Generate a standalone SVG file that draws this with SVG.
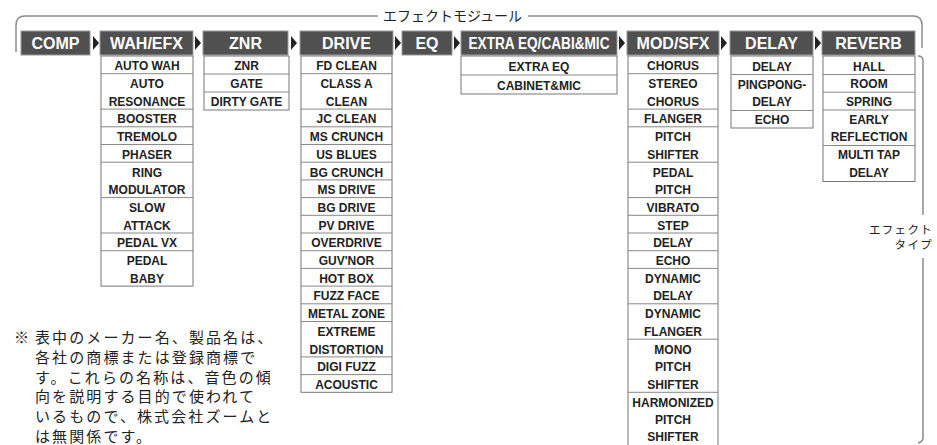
<svg xmlns="http://www.w3.org/2000/svg" width="937" height="445" viewBox="0 0 937 445">
<style>
.hd{fill:#505050;stroke:#9a9a9a;stroke-width:1}
.ht{fill:#fff;font-family:"Liberation Sans",Arial,sans-serif;font-weight:bold;font-size:16px;text-anchor:middle}
.col{fill:#fff;stroke:#777;stroke-width:1}
.sep{stroke:#888;stroke-width:1}
.ct{fill:#222;font-family:"Liberation Sans",Arial,sans-serif;font-weight:bold;font-size:12px;text-anchor:middle}
.br{fill:none;stroke:#8c8c8c;stroke-width:1.5}
.arw{fill:#222}
.jp{fill:#222;font-family:"Noto Sans CJK JP","Noto Sans",sans-serif}
</style>
<rect width="937" height="445" fill="#fff"/>

<g id="brackets">
<path class="br" d="M16,52 V25 Q16,16 25,16 H378 M528,16 H913 Q922,16 922,25 V48"/>
<path class="br" d="M918,56 Q923,56 923,61 V215 M923,258 V437 Q923,442 918,443"/>
<text class="jp" x="383" y="21" font-size="14">エフェクトモジュール</text>
<text class="jp" x="933" y="233.5" font-size="11.5" letter-spacing="1.3" text-anchor="end">エフェクト</text>
<text class="jp" x="933" y="249" font-size="11.5" letter-spacing="1.3" text-anchor="end">タイプ</text>
</g>

<g id="connectors">
<polygon class="arw" points="93,36 99,43 93,50"/>
<polygon class="arw" points="195,36 201,43 195,50"/>
<polygon class="arw" points="291,36 297,43 291,50"/>
<polygon class="arw" points="395,36 401,43 395,50"/>
<polygon class="arw" points="454,36 460,43 454,50"/>
<polygon class="arw" points="619,36 625,43 619,50"/>
<polygon class="arw" points="721,36 727,43 721,50"/>
<polygon class="arw" points="815,36 821,43 815,50"/>
</g>

<g id="comp">
<rect class="hd" x="21" y="31" width="69" height="24"/>
<text class="ht" x="55.5" y="48.7">COMP</text>
</g>

<g id="wah">
<rect class="hd" x="100" y="31" width="93" height="24"/>
<text class="ht" x="146.5" y="48.7">WAH/EFX</text>
<rect class="col" x="101" y="56" width="92" height="230.1"/>
<g class="sep">
<line x1="101" y1="73.7" x2="193" y2="73.7"/>
<line x1="101" y1="109.1" x2="193" y2="109.1"/>
<line x1="101" y1="126.8" x2="193" y2="126.8"/>
<line x1="101" y1="144.5" x2="193" y2="144.5"/>
<line x1="101" y1="162.2" x2="193" y2="162.2"/>
<line x1="101" y1="197.6" x2="193" y2="197.6"/>
<line x1="101" y1="233" x2="193" y2="233"/>
<line x1="101" y1="250.7" x2="193" y2="250.7"/>
</g>
<g class="ct">
<text x="147" y="70.3">AUTO WAH</text>
<text x="147" y="88">AUTO</text>
<text x="147" y="105.7">RESONANCE</text>
<text x="147" y="123.4">BOOSTER</text>
<text x="147" y="141.1">TREMOLO</text>
<text x="147" y="158.8">PHASER</text>
<text x="147" y="176.5">RING</text>
<text x="147" y="194.2">MODULATOR</text>
<text x="147" y="211.9">SLOW</text>
<text x="147" y="229.6">ATTACK</text>
<text x="147" y="247.3">PEDAL VX</text>
<text x="147" y="265">PEDAL</text>
<text x="147" y="282.7">BABY</text>
</g>
</g>

<g id="znr">
<rect class="hd" x="203" y="31" width="85" height="24"/>
<text class="ht" x="245.5" y="48.7">ZNR</text>
<rect class="col" x="204" y="56" width="85" height="54"/>
<g class="sep">
<line x1="204" y1="74" x2="289" y2="74"/>
<line x1="204" y1="92" x2="289" y2="92"/>
</g>
<g class="ct">
<text x="246.5" y="70.3">ZNR</text>
<text x="246.5" y="88.3">GATE</text>
<text x="246.5" y="106.3">DIRTY GATE</text>
</g>
</g>

<g id="drive">
<rect class="hd" x="300" y="31" width="93" height="24"/>
<text class="ht" x="346.5" y="48.7">DRIVE</text>
<rect class="col" x="301" y="56" width="91" height="336.3"/>
<g class="sep">
<line x1="301" y1="73.7" x2="392" y2="73.7"/>
<line x1="301" y1="109.1" x2="392" y2="109.1"/>
<line x1="301" y1="126.8" x2="392" y2="126.8"/>
<line x1="301" y1="144.5" x2="392" y2="144.5"/>
<line x1="301" y1="162.2" x2="392" y2="162.2"/>
<line x1="301" y1="179.9" x2="392" y2="179.9"/>
<line x1="301" y1="197.6" x2="392" y2="197.6"/>
<line x1="301" y1="215.3" x2="392" y2="215.3"/>
<line x1="301" y1="233" x2="392" y2="233"/>
<line x1="301" y1="250.7" x2="392" y2="250.7"/>
<line x1="301" y1="268.4" x2="392" y2="268.4"/>
<line x1="301" y1="286.1" x2="392" y2="286.1"/>
<line x1="301" y1="303.8" x2="392" y2="303.8"/>
<line x1="301" y1="321.5" x2="392" y2="321.5"/>
<line x1="301" y1="356.9" x2="392" y2="356.9"/>
<line x1="301" y1="374.6" x2="392" y2="374.6"/>
</g>
<g class="ct">
<text x="346.5" y="70.3">FD CLEAN</text>
<text x="346.5" y="88">CLASS A</text>
<text x="346.5" y="105.7">CLEAN</text>
<text x="346.5" y="123.4">JC CLEAN</text>
<text x="346.5" y="141.1">MS CRUNCH</text>
<text x="346.5" y="158.8">US BLUES</text>
<text x="346.5" y="176.5">BG CRUNCH</text>
<text x="346.5" y="194.2">MS DRIVE</text>
<text x="346.5" y="211.9">BG DRIVE</text>
<text x="346.5" y="229.6">PV DRIVE</text>
<text x="346.5" y="247.3">OVERDRIVE</text>
<text x="346.5" y="265">GUV'NOR</text>
<text x="346.5" y="282.7">HOT BOX</text>
<text x="346.5" y="300.4">FUZZ FACE</text>
<text x="346.5" y="318.1">METAL ZONE</text>
<text x="346.5" y="335.8">EXTREME</text>
<text x="346.5" y="353.5">DISTORTION</text>
<text x="346.5" y="371.2">DIGI FUZZ</text>
<text x="346.5" y="388.9">ACOUSTIC</text>
</g>
</g>

<g id="eq">
<rect class="hd" x="402" y="31" width="50" height="24"/>
<text class="ht" x="427" y="48.7">EQ</text>
</g>

<g id="extra">
<rect class="hd" x="461" y="31" width="156" height="24"/>
<text class="ht" x="539" y="48.7" textLength="141" lengthAdjust="spacingAndGlyphs">EXTRA EQ/CABI&amp;MIC</text>
<rect class="col" x="461" y="56" width="156" height="38"/>
<line class="sep" x1="461" y1="75" x2="617" y2="75"/>
<g class="ct">
<text x="539" y="70.5">EXTRA EQ</text>
<text x="539" y="89.5">CABINET&amp;MIC</text>
</g>
</g>

<g id="mod">
<rect class="hd" x="627" y="31" width="92" height="24"/>
<text class="ht" x="673" y="48.7">MOD/SFX</text>
<rect class="col" x="628" y="56" width="90" height="392"/>
<g class="sep">
<line x1="628" y1="73.7" x2="718" y2="73.7"/>
<line x1="628" y1="109.1" x2="718" y2="109.1"/>
<line x1="628" y1="126.8" x2="718" y2="126.8"/>
<line x1="628" y1="162.2" x2="718" y2="162.2"/>
<line x1="628" y1="197.6" x2="718" y2="197.6"/>
<line x1="628" y1="215.3" x2="718" y2="215.3"/>
<line x1="628" y1="233" x2="718" y2="233"/>
<line x1="628" y1="250.7" x2="718" y2="250.7"/>
<line x1="628" y1="268.4" x2="718" y2="268.4"/>
<line x1="628" y1="303.8" x2="718" y2="303.8"/>
<line x1="628" y1="339.2" x2="718" y2="339.2"/>
<line x1="628" y1="392.3" x2="718" y2="392.3"/>
</g>
<g class="ct">
<text x="673" y="70.3">CHORUS</text>
<text x="673" y="88">STEREO</text>
<text x="673" y="105.7">CHORUS</text>
<text x="673" y="123.4">FLANGER</text>
<text x="673" y="141.1">PITCH</text>
<text x="673" y="158.8">SHIFTER</text>
<text x="673" y="176.5">PEDAL</text>
<text x="673" y="194.2">PITCH</text>
<text x="673" y="211.9">VIBRATO</text>
<text x="673" y="229.6">STEP</text>
<text x="673" y="247.3">DELAY</text>
<text x="673" y="265">ECHO</text>
<text x="673" y="282.7">DYNAMIC</text>
<text x="673" y="300.4">DELAY</text>
<text x="673" y="318.1">DYNAMIC</text>
<text x="673" y="335.8">FLANGER</text>
<text x="673" y="353.5">MONO</text>
<text x="673" y="371.2">PITCH</text>
<text x="673" y="388.9">SHIFTER</text>
<text x="673" y="406.6">HARMONIZED</text>
<text x="673" y="423.6">PITCH</text>
<text x="673" y="440.6">SHIFTER</text>
</g>
</g>

<g id="delay">
<rect class="hd" x="730" y="31" width="83" height="24"/>
<text class="ht" x="771.5" y="48.7">DELAY</text>
<rect class="col" x="731" y="56" width="82" height="72"/>
<g class="sep">
<line x1="731" y1="74.5" x2="813" y2="74.5"/>
<line x1="731" y1="110.5" x2="813" y2="110.5"/>
</g>
<g class="ct">
<text x="772" y="70.5">DELAY</text>
<text x="772" y="88.5">PINGPONG-</text>
<text x="772" y="106">DELAY</text>
<text x="772" y="124">ECHO</text>
</g>
</g>

<g id="reverb">
<rect class="hd" x="822" y="31" width="93" height="24"/>
<text class="ht" x="868.5" y="48.7">REVERB</text>
<rect class="col" x="823" y="56" width="92" height="125.5"/>
<g class="sep">
<line x1="823" y1="74.5" x2="915" y2="74.5"/>
<line x1="823" y1="92.2" x2="915" y2="92.2"/>
<line x1="823" y1="110" x2="915" y2="110"/>
<line x1="823" y1="145.5" x2="915" y2="145.5"/>
</g>
<g class="ct">
<text x="869" y="70.5">HALL</text>
<text x="869" y="88.2">ROOM</text>
<text x="869" y="106">SPRING</text>
<text x="869" y="123.7">EARLY</text>
<text x="869" y="141.4">REFLECTION</text>
<text x="869" y="159.2">MULTI TAP</text>
<text x="869" y="177">DELAY</text>
</g>
</g>

<g id="footnote" class="jp" font-size="15" letter-spacing="2.1">
<text x="14" y="343">※</text>
<text x="35" y="343">表中のメーカー名、製品名は、</text>
<text x="35" y="362.8">各社の商標または登録商標で</text>
<text x="35" y="382.6">す。これらの名称は、音色の傾</text>
<text x="35" y="402.4">向を説明する目的で使われて</text>
<text x="35" y="422.2">いるもので、株式会社ズームと</text>
<text x="35" y="442">は無関係です。</text>
</g>
</svg>
